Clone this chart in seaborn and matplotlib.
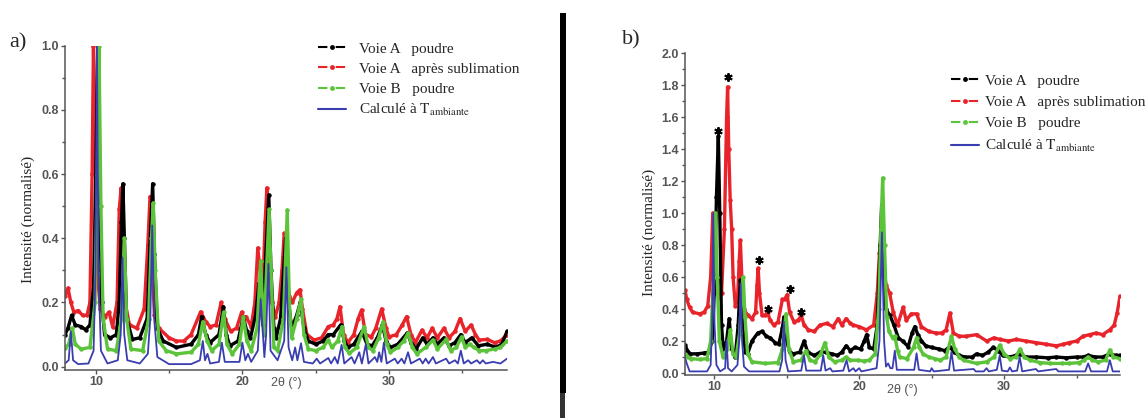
import matplotlib
matplotlib.use("Agg")
import matplotlib.pyplot as plt
import seaborn as sns
from matplotlib.lines import Line2D
from matplotlib.patches import Rectangle
from matplotlib.ticker import MultipleLocator

sns.set_style("ticks")
plt.rcParams["font.family"] = ["Liberation Sans", "DejaVu Sans"]
plt.rcParams["mathtext.fontset"] = "stix"

# ---------------- panel a) ----------------
a_black_x = [7.9, 8.1, 8.35, 8.6, 9.0, 9.3, 9.6, 9.85, 10.0, 10.13, 10.25, 10.4, 10.6, 11.0, 11.4, 11.6, 11.75, 11.85,
             11.95, 12.1, 12.5, 13.0, 13.5, 13.7, 13.88, 14.0, 14.2, 14.6, 15.5, 16.5, 17.0, 17.22, 17.5, 17.8, 18.4,
             18.7, 18.9, 19.15, 19.7, 20.06, 20.3, 20.55, 20.9, 21.13, 21.4, 21.6, 21.8, 21.95, 22.15, 22.3, 22.6,
             22.95, 23.15, 23.36, 23.7, 23.95, 24.2, 24.5, 25.0, 25.5, 25.85, 26.2, 26.7, 26.95, 27.2, 27.6, 28.15,
             28.5, 28.85, 29.2, 29.55, 29.8, 30.1, 30.6, 31.25, 31.5, 31.85, 32.3, 32.6, 33.0, 33.3, 33.75, 34.1,
             34.5, 34.9, 35.2, 35.65, 36.1, 36.7, 37.3, 37.7, 38.05]
a_black_y = [0.10, 0.12, 0.16, 0.13, 0.125, 0.115, 0.13, 0.25, 0.6, 1.0, 0.55, 0.2, 0.1, 0.09, 0.1, 0.2, 0.45, 0.57,
             0.4, 0.15, 0.085, 0.09, 0.15, 0.38, 0.57, 0.35, 0.12, 0.08, 0.06, 0.07, 0.1, 0.156, 0.1, 0.075, 0.1,
             0.187, 0.1, 0.065, 0.08, 0.156, 0.11, 0.09, 0.16, 0.26, 0.13, 0.35, 0.535, 0.3, 0.12, 0.09, 0.15,
             0.40, 0.2, 0.12, 0.16, 0.2, 0.12, 0.08, 0.07, 0.08, 0.1, 0.1, 0.13, 0.08, 0.06, 0.07, 0.11,
             0.07, 0.065, 0.09, 0.13, 0.08, 0.06, 0.07, 0.105, 0.075, 0.055, 0.09, 0.07, 0.09, 0.07, 0.09, 0.065,
             0.075, 0.1, 0.075, 0.09, 0.065, 0.07, 0.06, 0.07, 0.11]

a_red_x = [7.9, 8.1, 8.3, 8.5, 8.8, 9.1, 9.4, 9.6, 9.75, 9.84, 9.95, 10.1, 10.3, 10.6, 10.9, 11.15, 11.45, 11.6, 11.73,
           11.85, 12.0, 12.3, 12.8, 13.3, 13.55, 13.7, 13.82, 14.0, 14.3, 15.0, 15.5, 16.0, 16.5, 17.15, 17.5, 17.8,
           18.2, 18.55, 18.8, 19.2, 19.6, 19.95, 20.1, 20.25, 20.6, 20.85, 21.05, 21.25, 21.4, 21.55, 21.67, 21.8,
           22.0, 22.25, 22.5, 22.7, 22.85, 23.0, 23.2, 23.4, 23.7, 23.93, 24.1, 24.4, 24.9, 25.4, 25.86, 26.2,
           26.45, 26.66, 26.9, 27.2, 27.6, 27.9, 28.13, 28.4, 28.8, 29.1, 29.5, 29.8, 30.0, 30.5, 30.9, 31.2, 31.5,
           31.8, 32.25, 32.6, 32.95, 33.3, 33.75, 34.1, 34.5, 34.85, 35.2, 35.6, 35.9, 36.15, 36.7, 37.2, 37.6, 38.05]
a_red_y = [0.22, 0.245, 0.2, 0.17, 0.175, 0.16, 0.16, 0.2, 0.6, 1.0, 0.7, 0.3, 0.18, 0.155, 0.17, 0.125, 0.2, 0.49, 0.557,
           0.4, 0.2, 0.13, 0.12, 0.18, 0.38, 0.53, 0.35, 0.16, 0.12, 0.09, 0.08, 0.08, 0.1, 0.171, 0.14, 0.125,
           0.13, 0.2, 0.15, 0.11, 0.12, 0.17, 0.15, 0.156, 0.125, 0.2, 0.37, 0.28, 0.25, 0.45, 0.557, 0.4,
           0.2, 0.155, 0.2, 0.3, 0.415, 0.3, 0.22, 0.2, 0.23, 0.24, 0.18, 0.1, 0.083, 0.09, 0.125, 0.13,
           0.15, 0.187, 0.1, 0.075, 0.1, 0.15, 0.177, 0.1, 0.093, 0.12, 0.18, 0.12, 0.093, 0.1, 0.13, 0.156, 0.1,
           0.075, 0.114, 0.09, 0.12, 0.09, 0.12, 0.09, 0.11, 0.15, 0.11, 0.13, 0.1, 0.083, 0.085, 0.075, 0.08, 0.1]

a_green_x = [7.9, 8.15, 8.4, 8.6, 9.0, 9.6, 9.95, 10.1, 10.22, 10.35, 10.5, 10.8, 11.4, 11.75, 11.95, 12.1, 12.4, 13.2,
             13.6, 13.8, 13.92, 14.05, 14.3, 14.8, 15.5, 16.5, 17.0, 17.3, 17.6, 17.9, 18.4, 18.72, 18.95, 19.3, 19.8,
             20.06, 20.3, 20.6, 21.0, 21.25, 21.45, 21.65, 21.82, 21.95, 22.15, 22.4, 22.8, 23.06, 23.2, 23.36,
             23.7, 24.0, 24.2, 24.5, 25.0, 25.5, 25.86, 26.1, 26.5, 26.8, 27.0, 27.3, 27.8, 28.3, 28.6, 28.9, 29.3,
             29.6, 29.85, 30.1, 30.6, 31.0, 31.3, 31.6, 31.9, 32.5, 33.0, 33.3, 33.9, 34.2, 34.6, 34.95, 35.2, 35.5,
             35.8, 36.15, 36.6, 37.2, 37.6, 38.05]
a_green_y = [0.058, 0.07, 0.12, 0.07, 0.055, 0.06, 0.2, 0.6, 1.0, 0.5, 0.15, 0.055, 0.05, 0.15, 0.40, 0.15, 0.055, 0.05,
             0.15, 0.4, 0.51, 0.3, 0.08, 0.05, 0.04, 0.045, 0.07, 0.14, 0.08, 0.05, 0.07, 0.17, 0.07, 0.04, 0.07,
             0.156, 0.08, 0.05, 0.12, 0.33, 0.1, 0.3, 0.49, 0.3, 0.06, 0.05, 0.15, 0.488, 0.2, 0.09,
             0.15, 0.21, 0.1, 0.055, 0.05, 0.06, 0.083, 0.06, 0.08, 0.125, 0.06, 0.042, 0.06, 0.125, 0.06, 0.05, 0.09,
             0.14, 0.07, 0.045, 0.06, 0.08, 0.104, 0.06, 0.04, 0.06, 0.083, 0.055, 0.085, 0.05, 0.06, 0.093, 0.06, 0.07,
             0.06, 0.05, 0.05, 0.055, 0.06, 0.08]

a_calc_x = [7.9, 8.15, 8.3, 8.45, 8.8, 9.5, 9.85, 9.98, 10.08, 10.18, 10.35, 10.8, 11.5, 11.7, 11.82, 11.94, 12.15,
            13.0, 13.55, 13.72, 13.85, 13.98, 14.2, 15.0, 16.5, 17.1, 17.3, 17.45, 17.62, 17.8, 18.4, 18.6, 18.8,
            19.8, 20.0, 20.2, 20.38, 20.6, 21.05, 21.25, 21.5, 21.62, 21.77, 21.92, 22.4, 22.85, 23.0, 23.15, 23.4,
            23.6, 23.75, 24.0, 24.2, 24.8, 25.07, 25.3, 25.86, 26.05, 26.3, 26.5, 26.77, 26.95, 27.45, 27.65, 27.97,
            28.15, 28.42, 28.6, 29.04, 29.2, 29.33, 29.48, 29.65, 29.85, 30.4, 30.6, 30.86, 31.05, 31.3, 31.5, 32.1,
            32.3, 32.5, 32.7, 33.0, 33.2, 33.9, 34.1, 34.5, 34.7, 34.9, 35.1, 35.4, 35.6, 36.0, 36.2, 36.4, 36.6,
            37.1, 37.6, 38.05]
a_calc_y = [0.01, 0.02, 0.11, 0.02, 0.008, 0.01, 0.05, 0.3, 1.0, 0.3, 0.05, 0.01, 0.02, 0.1, 0.34, 0.1, 0.02,
            0.01, 0.04, 0.15, 0.44, 0.15, 0.03, 0.008, 0.008, 0.02, 0.08, 0.02, 0.04, 0.01, 0.015, 0.075, 0.015,
            0.015, 0.075, 0.02, 0.04, 0.015, 0.05, 0.21, 0.03, 0.1, 0.32, 0.05, 0.02, 0.08, 0.31, 0.06, 0.02,
            0.06, 0.02, 0.073, 0.015, 0.01, 0.025, 0.01, 0.027, 0.01, 0.03, 0.01, 0.068, 0.01, 0.03, 0.01, 0.045,
            0.01, 0.07, 0.01, 0.03, 0.015, 0.045, 0.015, 0.075, 0.01, 0.025, 0.01, 0.025, 0.01, 0.045, 0.01, 0.025,
            0.01, 0.025, 0.01, 0.03, 0.01, 0.025, 0.01, 0.02, 0.01, 0.05, 0.01, 0.02, 0.01, 0.02, 0.01, 0.02, 0.01,
            0.015, 0.01, 0.025]

# ---------------- panel b) ----------------
b_black_x = [7.98, 8.15, 8.35, 8.8, 9.3, 9.6, 9.85, 10.0, 10.15, 10.28, 10.38, 10.5, 10.62, 10.85, 11.03, 11.2, 11.45,
             11.65, 11.8, 11.95, 12.15, 12.3, 12.6, 13.0, 13.3, 13.6, 13.85, 14.2, 14.45, 14.7, 14.8, 14.95, 15.2,
             15.45, 15.9, 16.2, 16.45, 16.9, 17.3, 17.7, 18.1, 18.5, 18.8, 19.1, 19.4, 19.7, 20.1, 20.35, 20.51,
             20.7, 21.0, 21.25, 21.45, 21.55, 21.68, 21.85, 22.12, 22.4, 22.7, 23.0, 23.38, 23.65, 23.84, 24.05,
             24.3, 24.6, 25.0, 25.5, 25.9, 26.26, 26.55, 26.9, 27.3, 27.8, 28.1, 28.5, 28.9, 29.25, 29.6, 29.9,
             30.4, 30.8, 31.1, 31.5, 32.2, 33.0, 33.6, 34.3, 35.0, 35.45, 35.8, 36.3, 36.8, 37.3, 37.7, 38.0]
b_black_y = [0.175, 0.14, 0.12, 0.12, 0.125, 0.13, 0.2, 0.5, 1.1, 1.48, 1.0, 0.3, 0.15, 0.2, 0.34, 0.15, 0.1,
             0.3, 0.58, 0.3, 0.13, 0.12, 0.2, 0.25, 0.26, 0.23, 0.22, 0.19, 0.18, 0.28, 0.35, 0.22, 0.13,
             0.12, 0.13, 0.2, 0.13, 0.11, 0.13, 0.13, 0.12, 0.11, 0.13, 0.17, 0.14, 0.16, 0.15, 0.2, 0.24,
             0.16, 0.15, 0.3, 0.8, 1.05, 0.6, 0.4, 0.36, 0.3, 0.22, 0.2, 0.165, 0.25, 0.29, 0.24,
             0.2, 0.17, 0.16, 0.15, 0.14, 0.165, 0.13, 0.11, 0.1, 0.1, 0.12, 0.11, 0.13, 0.16, 0.14, 0.11,
             0.1, 0.11, 0.12, 0.1, 0.1, 0.095, 0.1, 0.095, 0.1, 0.1, 0.11, 0.1, 0.1, 0.12, 0.11, 0.11]

b_red_x = [7.98, 8.1, 8.3, 8.5, 9.0, 9.3, 9.55, 9.75, 9.9, 10.02, 10.15, 10.3, 10.5, 10.7, 10.85, 10.92, 11.0, 11.1,
           11.2, 11.3, 11.45, 11.6, 11.72, 11.8, 11.9, 12.05, 12.3, 12.6, 12.85, 12.95, 13.03, 13.12, 13.3, 13.5,
           13.68, 13.85, 14.1, 14.4, 14.7, 14.85, 15.03, 15.2, 15.5, 15.8, 16.0, 16.2, 16.5, 16.9, 17.3, 17.75,
           18.2, 18.55, 18.8, 19.1, 19.4, 19.6, 20.0, 20.5, 21.0, 21.25, 21.4, 21.52, 21.65, 21.85, 22.1, 22.35,
           22.65, 23.03, 23.25, 23.6, 23.96, 24.3, 24.8, 25.3, 25.7, 26.0, 26.26, 26.5, 26.9, 27.4, 28.1, 28.8,
           29.3, 29.7, 30.3, 30.85, 31.5, 32.2, 32.9, 33.6, 34.1, 34.5, 35.0, 35.45, 35.9, 36.35, 36.8, 37.3,
           37.6, 37.8, 38.0]
b_red_y = [0.52, 0.46, 0.41, 0.38, 0.37, 0.38, 0.42, 0.6, 1.0, 0.75, 0.6, 0.47, 0.5, 0.9, 1.6, 1.79, 1.4, 1.08,
           0.9, 0.6, 0.42, 0.45, 0.7, 0.83, 0.6, 0.4, 0.36, 0.34, 0.38, 0.55, 0.655, 0.5, 0.36, 0.36,
           0.38, 0.33, 0.3, 0.32, 0.46, 0.46, 0.49, 0.38, 0.32, 0.33, 0.36, 0.3, 0.27, 0.26, 0.3, 0.31,
           0.29, 0.34, 0.3, 0.34, 0.31, 0.3, 0.29, 0.27, 0.3, 0.5, 0.75, 0.86, 0.7, 0.55, 0.5, 0.38,
           0.3, 0.41, 0.33, 0.37, 0.37, 0.29, 0.26, 0.25, 0.25, 0.27, 0.375, 0.25, 0.23, 0.23, 0.24, 0.2,
           0.22, 0.21, 0.2, 0.21, 0.2, 0.19, 0.18, 0.17, 0.18, 0.19, 0.2, 0.23, 0.24, 0.25, 0.24, 0.27,
           0.3, 0.375, 0.48]

b_green_x = [7.98, 8.2, 8.4, 9.0, 9.5, 9.75, 9.95, 10.08, 10.2, 10.35, 10.6, 10.9, 11.1, 11.3, 11.5, 11.75, 11.9, 12.0,
             12.12, 12.3, 12.6, 13.5, 14.4, 14.7, 14.95, 15.15, 15.45, 16.0, 16.32, 16.6, 16.95, 17.35, 17.63, 17.9,
             18.3, 18.8, 19.1, 19.4, 19.9, 20.3, 20.7, 21.1, 21.35, 21.5, 21.62, 21.75, 21.9, 22.05, 22.3, 22.46,
             22.65, 22.8, 23.3, 23.75, 23.96, 24.15, 24.4, 24.8, 25.2, 25.6, 26.0, 26.37, 26.6, 26.9, 27.2, 28.1,
             28.8, 29.3, 29.7, 30.0, 30.4, 30.8, 31.1, 31.4, 31.8, 32.5, 33.2, 34.0, 34.5, 35.2, 35.5, 35.8, 36.1,
             36.5, 37.0, 37.3, 37.55, 38.0]
b_green_y = [0.12, 0.1, 0.09, 0.085, 0.09, 0.2, 0.6, 1.0, 0.6, 0.2, 0.1, 0.15, 0.27, 0.12, 0.1, 0.25, 0.5, 0.6,
             0.35, 0.12, 0.07, 0.06, 0.065, 0.15, 0.37, 0.15, 0.07, 0.08, 0.14, 0.08, 0.07, 0.12, 0.19, 0.1,
             0.07, 0.08, 0.1, 0.08, 0.08, 0.075, 0.08, 0.12, 0.4, 0.9, 1.22, 0.8, 0.35, 0.26, 0.22, 0.23,
             0.14, 0.1, 0.09, 0.16, 0.22, 0.16, 0.12, 0.1, 0.09, 0.08, 0.1, 0.23, 0.15, 0.1, 0.08, 0.06,
             0.07, 0.1, 0.175, 0.12, 0.09, 0.1, 0.15, 0.1, 0.08, 0.065, 0.06, 0.06, 0.06, 0.065, 0.08, 0.1, 0.08,
             0.07, 0.08, 0.145, 0.1, 0.09]

b_calc_x = [7.98, 8.1, 8.3, 9.5, 9.75, 9.85, 9.93, 10.02, 10.15, 10.4, 10.75, 10.85, 10.95, 11.2, 11.6, 11.72, 11.82,
            11.92, 12.05, 12.4, 14.5, 14.68, 14.8, 14.92, 15.1, 16.0, 16.19, 16.35, 17.35, 17.52, 17.68, 18.0, 18.15,
            18.9, 19.13, 19.3, 19.6, 19.75, 20.0, 20.15, 21.2, 21.4, 21.57, 21.72, 21.85, 22.0, 22.15, 22.3, 22.46,
            22.6, 23.8, 23.96, 24.12, 24.9, 25.0, 25.15, 26.2, 26.37, 26.55, 27.9, 28.05, 28.6, 28.79, 28.95, 29.5,
            29.7, 29.85, 30.25, 30.4, 30.55, 30.9, 31.08, 31.25, 32.2, 32.35, 33.6, 33.75, 35.6, 35.8, 36.0, 37.1,
            37.3, 37.5, 38.0]
b_calc_y = [0.10, 0.06, 0.01, 0.01, 0.05, 0.3, 1.0, 0.3, 0.05, 0.01, 0.03, 0.206, 0.03, 0.01, 0.05, 0.2, 0.56,
            0.2, 0.04, 0.01, 0.01, 0.08, 0.32, 0.08, 0.01, 0.015, 0.11, 0.015, 0.015, 0.11, 0.015, 0.03, 0.01,
            0.015, 0.08, 0.01, 0.03, 0.01, 0.03, 0.01, 0.03, 0.2, 0.88, 0.2, 0.04, 0.06, 0.03, 0.03, 0.14,
            0.02, 0.02, 0.123, 0.02, 0.01, 0.03, 0.01, 0.02, 0.133, 0.015, 0.025, 0.01, 0.01, 0.03, 0.01, 0.02,
            0.11, 0.015, 0.01, 0.035, 0.01, 0.015, 0.10, 0.01, 0.025, 0.01, 0.025, 0.01, 0.01, 0.06, 0.01, 0.01,
            0.08, 0.01, 0.01]

# peaks marked with an asterisk in b)
star_x = [10.23, 10.97, 13.08, 13.68, 15.22, 15.96]
star_y = [1.515, 1.85, 0.71, 0.40, 0.527, 0.38]

labels = ["Voie A   poudre", "Voie A   après sublimation", "Voie B   poudre",
          r"Calculé à $\mathrm{T_{ambiante}}$"]
colors = ["black", "#e8232a", "#5cc43a", "#3a3db0"]

W, H = 1148, 418
fig = plt.figure(figsize=(W / 100, H / 100), dpi=100)
ax_a = fig.add_axes([65 / W, 1 - 369.9 / H, 442 / W, 324.2 / H])
ax_b = fig.add_axes([685 / W, 1 - 374.6 / H, 435 / W, 321.3 / H])


def draw(ax, black, red, green, calc):
    # red behind, then black, green, calculated on top
    for (x, y), c in [(red, colors[1]), (black, colors[0]), (green, colors[2])]:
        sns.lineplot(x=x, y=y, ax=ax, color=c, lw=2.4, marker="o", markersize=3.2,
                     markeredgewidth=0, estimator=None, sort=False)
    sns.lineplot(x=calc[0], y=calc[1], ax=ax, color=colors[3], lw=1.3, estimator=None, sort=False)


draw(ax_a, (a_black_x, a_black_y), (a_red_x, a_red_y), (a_green_x, a_green_y), (a_calc_x, a_calc_y))
draw(ax_b, (b_black_x, b_black_y), (b_red_x, b_red_y), (b_green_x, b_green_y), (b_calc_x, b_calc_y))
ax_b.plot(star_x, star_y, ls="none", marker=(6, 2, 0), ms=6, mew=1.4, color="black")

ax_a.set_xlim(7.9, 38.05)
ax_a.set_ylim(-0.01, 1.0)
ax_b.set_xlim(7.98, 38.0)
ax_b.set_ylim(-0.01, 2.0)

for ax in (ax_a, ax_b):
    sns.despine(ax=ax)
    ax.set_xlabel("")
    ax.set_ylabel("")
    ax.xaxis.set_major_locator(MultipleLocator(10))
    ax.xaxis.set_minor_locator(MultipleLocator(5))
    ax.yaxis.set_major_locator(MultipleLocator(0.2))
    ax.yaxis.set_minor_locator(MultipleLocator(0.1))
    ax.yaxis.set_major_formatter("{x:.1f}")
    for s in ("left", "bottom"):
        ax.spines[s].set_color("#555555")
        ax.spines[s].set_linewidth(1.1)
    ax.tick_params(which="both", direction="out", colors="#555555", width=1, labelsize=9, pad=1.5)
    ax.tick_params(which="major", length=3)
    ax.tick_params(which="minor", length=2)
    for lbl in ax.get_xticklabels() + ax.get_yticklabels():
        lbl.set_fontweight("bold")
    ax.text(23.0, -0.033 * ax.get_ylim()[1], "2θ (°)", ha="center", va="top", fontsize=9, color="#555555",
            transform=ax.transData)

# legend handles drawn as "- • -"
handles = [Line2D([], [], color=c, lw=1.5, ls=(0, (4.5, 4)), marker="o", ms=3.5, mew=0) for c in colors[:3]]
handles.append(Line2D([], [], color=colors[3], lw=1.5))
serif = {"family": "Liberation Serif", "size": 11}
fig.legend(handles, labels, loc="upper left", bbox_to_anchor=(318 / W, 1 - 42 / H), frameon=False, prop=serif,
           handlelength=1.8, handletextpad=0.9, labelspacing=0.42, borderpad=0, borderaxespad=0)
fig.legend(handles, labels, loc="upper left", bbox_to_anchor=(951 / W, 1 - 74 / H), frameon=False, prop=serif,
           handlelength=1.8, handletextpad=0.45, labelspacing=0.5, borderpad=0, borderaxespad=0)

fig.text(28 / W, 1 - 219 / H, "Intensité (normalisé)", rotation=90, ha="center", va="center",
         family="Liberation Serif", fontsize=11)
fig.text(649 / W, 1 - 232 / H, "Intensité (normalisé)", rotation=90, ha="center", va="center",
         family="Liberation Serif", fontsize=11)
fig.text(9 / W, 1 - 43 / H, "a)", ha="left", va="center", family="Liberation Serif", fontsize=16)
fig.text(622 / W, 1 - 40 / H, "b)", ha="left", va="center", family="Liberation Serif", fontsize=16)

# separating bar between the two panels
fig.add_artist(Rectangle((560 / W, 1 - 393 / H), 6 / W, 380 / H, transform=fig.transFigure, color="black", lw=0))
fig.add_artist(Rectangle((560 / W, 0), 5 / W, 25 / H, transform=fig.transFigure, color="#333333", lw=0))

fig.savefig("out.png", dpi=100)
